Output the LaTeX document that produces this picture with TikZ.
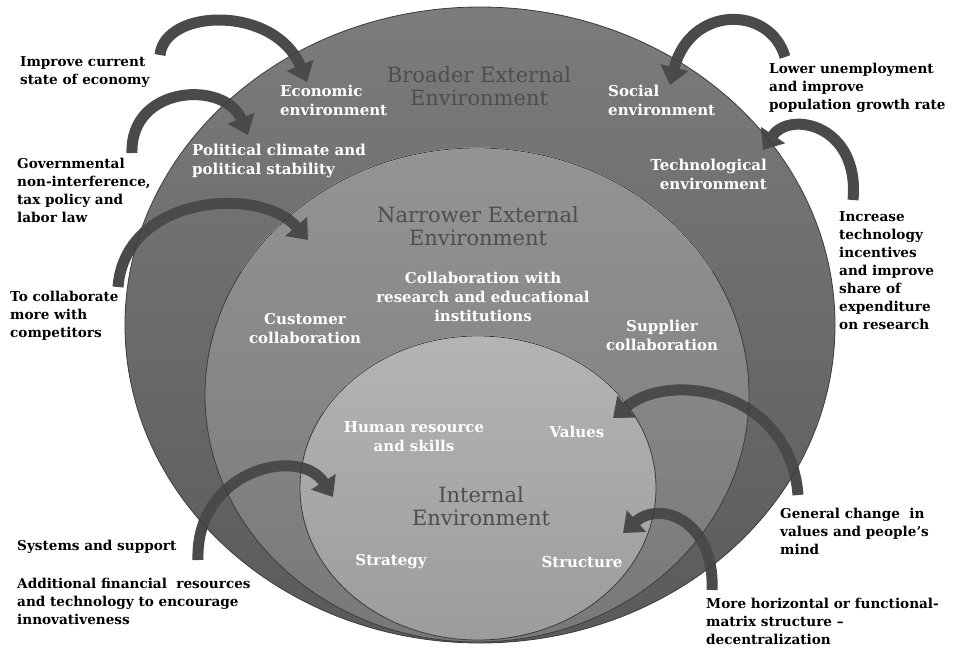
\documentclass[tikz,border=0pt]{standalone}
\usepackage{fontspec}
\setmainfont{DejaVu Serif}
\usetikzlibrary{arrows.meta}
\definecolor{arrowgray}{HTML}{4A4A4A}
\definecolor{outertop}{HTML}{7C7C7C}
\definecolor{outerbot}{HTML}{5A5A5A}
\definecolor{midtop}{HTML}{949494}
\definecolor{midbot}{HTML}{787878}
\definecolor{intop}{HTML}{B4B4B4}
\definecolor{inbot}{HTML}{9C9C9C}
\definecolor{edgegray}{HTML}{3C3C3C}
\definecolor{bigtext}{HTML}{4E4E4E}
\tikzset{
  wlab/.style={text=white, font=\bfseries\fontsize{15}{19}\selectfont, inner sep=0pt},
  blab/.style={text=black, font=\bfseries\fontsize{13.6}{18}\selectfont, align=left, anchor=west, inner sep=0pt},
  biglab/.style={text=bigtext, font=\fontsize{21}{22.5}\selectfont, align=center, inner sep=0pt},
  bigarrow/.style={draw=arrowgray, line width=11pt, -{Triangle[width=28pt,length=18pt]}},
  ringedge/.style={draw=edgegray, line width=0.8pt},
  shine/.style={draw=white, line width=1.2pt, opacity=0.6}
}
\begin{document}
\begin{tikzpicture}[x=1pt,y=-1pt]
\fill[white] (0,0) rectangle (960,648);
\useasboundingbox (0,0) rectangle (960,648);

% rings
\path[top color=outertop, bottom color=outerbot] (480,325) ellipse [x radius=355pt, y radius=318pt];
\path[top color=midtop, bottom color=midbot] (477,395) ellipse [x radius=272pt, y radius=247pt];
\path[top color=intop, bottom color=inbot] (478,488) ellipse [x radius=178pt, y radius=152pt];
\draw[shine] (477,395) ++(-235.6,-123.5) arc [start angle=150, end angle=30, x radius=272pt, y radius=247pt];
\draw[shine] (478,488) ++(-154.2,-76) arc [start angle=150, end angle=30, x radius=178pt, y radius=152pt];

% arrow end points
\coordinate (a1s) at (160,55);  \coordinate (a1e) at (307,82);
\coordinate (a2s) at (132,153); \coordinate (a2e) at (248,135);
\coordinate (a3s) at (118,287); \coordinate (a3e) at (308,240);
\coordinate (a4s) at (785,57);  \coordinate (a4e) at (670,85);
\coordinate (a5s) at (853,200); \coordinate (a5e) at (763,150);
\coordinate (a6s) at (798,495); \coordinate (a6e) at (613,418);
\coordinate (a7s) at (712,590); \coordinate (a7e) at (623,533);
\coordinate (a8s) at (198,560); \coordinate (a8e) at (333,497);

\draw[bigarrow] (a1s) .. controls (165,8) and (275,5) .. (a1e);
\draw[bigarrow] (a2s) .. controls (130,85) and (225,80) .. (a2e);
\draw[bigarrow] (a3s) .. controls (125,195) and (260,185) .. (a3e);
\draw[bigarrow] (a4s) .. controls (770,5) and (690,5) .. (a4e);
\draw[bigarrow] (a5s) .. controls (860,125) and (790,110) .. (a5e);
\draw[bigarrow] (a6s) .. controls (790,390) and (670,370) .. (a6e);
\draw[bigarrow] (a7s) .. controls (715,520) and (660,500) .. (a7e);
\draw[bigarrow] (a8s) .. controls (195,470) and (300,445) .. (a8e);

% ring outlines on top
\draw[ringedge] (480,325) ellipse [x radius=355pt, y radius=318pt];
\draw[ringedge] (477,395) ellipse [x radius=272pt, y radius=247pt];
\draw[ringedge] (478,488) ellipse [x radius=178pt, y radius=152pt];

% big labels
\node[biglab] (broader) at (479,86) {Broader External\\Environment};
\node[biglab] (narrower) at (478,226) {Narrower External\\Environment};
\node[biglab] (internal) at (481,506) {Internal\\Environment};

% white labels
\node[wlab, anchor=west, align=left] (econ) at (280,100) {Economic\\environment};
\node[wlab, anchor=west, align=left] (social) at (608,100) {Social\\environment};
\node[wlab, anchor=west, align=left] (polit) at (192,161) {Political climate and\\political stability};
\node[wlab, anchor=east, align=right] (tech) at (767,174) {Technological\\environment};
\node[wlab, align=center] (collab) at (483,297) {Collaboration with\\research and educational\\institutions};
\node[wlab, align=center] (cust) at (305,329) {Customer\\collaboration};
\node[wlab, align=center] (supp) at (662,335) {Supplier\\collaboration};
\node[wlab, align=center] (human) at (414,437) {Human resource\\and skills};
\node[wlab] (values) at (577,432) {Values};
\node[wlab] (strategy) at (391,562) {Strategy};
\node[wlab] (structure) at (582,562) {Structure};

% black outside labels
\node[blab] (t1) at (20,72) {Improve current\\state of economy};
\node[blab] (t2) at (17,190) {Governmental\\non-interference,\\tax policy and\\labor law};
\node[blab] (t3) at (10,316) {To collaborate\\more with\\competitors};
\node[blab] (t4) at (17,547) {Systems and support};
\node[blab] (t5) at (17,601) {Additional financial\ \ resources\\and technology to encourage\\innovativeness};
\node[blab] (t6) at (769,88) {Lower unemployment\\and improve\\population growth rate};
\node[blab] (t7) at (839,271) {Increase\\technology\\incentives\\and improve\\share of\\expenditure\\on research};
\node[blab] (t8) at (780,531) {General change\ \ in\\values and people's\\mind};
\node[blab] (t9) at (706,621) {More horizontal or functional-\\matrix structure –\\decentralization};
\end{tikzpicture}
\end{document}
